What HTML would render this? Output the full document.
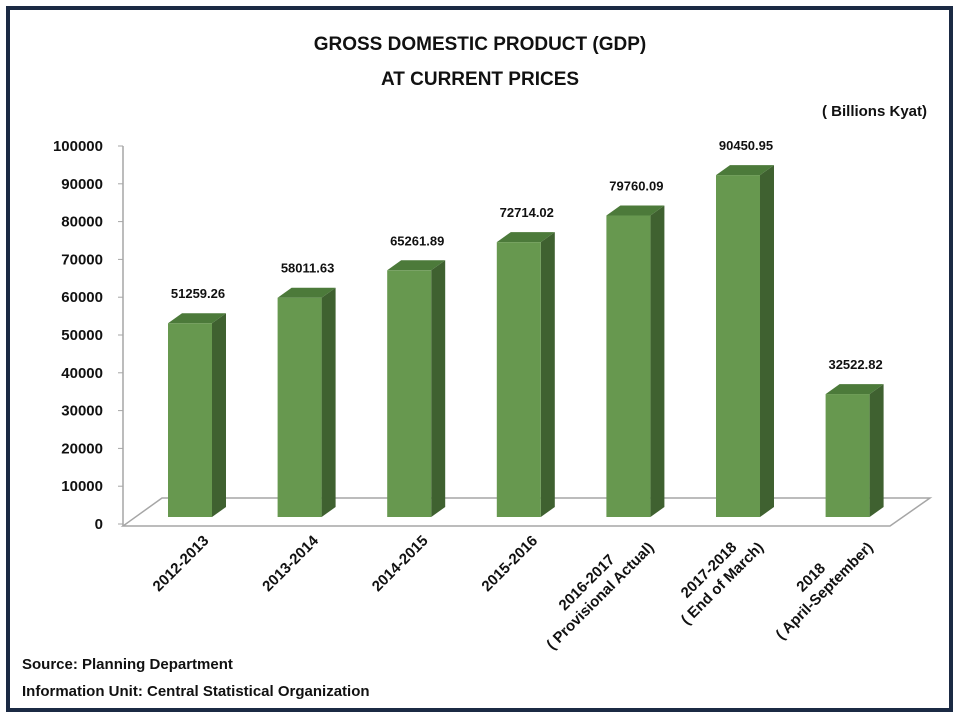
<!DOCTYPE html>
<html><head><meta charset="utf-8"><style>
html,body{margin:0;padding:0;background:#fff}
svg{display:block}
text{font-family:"Liberation Sans",sans-serif}
</style></head><body>
<svg id="c" width="960" height="720" viewBox="0 0 960 720">
<rect x="8" y="8" width="943" height="702" fill="#fff" stroke="#1b2a44" stroke-width="4"/>
<text x="480" y="50" text-anchor="middle" font-size="19" font-weight="bold" fill="#111">GROSS DOMESTIC PRODUCT (GDP)</text>
<text x="480" y="85" text-anchor="middle" font-size="19" font-weight="bold" fill="#111">AT CURRENT PRICES</text>
<text x="927" y="116" text-anchor="end" font-size="15" font-weight="bold" fill="#111">( Billions Kyat)</text>
<g id="axes"></g>
<g id="bars"></g>
<g id="xl"></g>
<text x="22" y="669" font-size="15" font-weight="bold" fill="#111">Source:  Planning Department</text>
<text x="22" y="696" font-size="15" font-weight="bold" fill="#111">Information Unit:  Central Statistical Organization</text>
</svg>
<script>
const categories=[["2012-2013"],["2013-2014"],["2014-2015"],["2015-2016"],["2016-2017","( Provisional Actual)"],["2017-2018","( End of March)"],["2018","( April-September)"]];
const values=[51259.26,58011.63,65261.89,72714.02,79760.09,90450.95,32522.82];
const valueLabels=["51259.26","58011.63","65261.89","72714.02","79760.09","90450.95","32522.82"];
const yTicks=[0,10000,20000,30000,40000,50000,60000,70000,80000,90000,100000];
const NS="http://www.w3.org/2000/svg";
function mk(t,a,p){const e=document.createElementNS(NS,t);for(const k in a)e.setAttribute(k,a[k]);p.appendChild(e);return e;}
const axisTop=146,axisBot=524,barBase=517,x0=168,step=109.6,bw=44,dx=14,dy=10;
const yAxis=v=>axisBot-(v/100000)*(axisBot-axisTop);
const barY=v=>barBase-(v/100000)*(axisBot-axisTop);
const xPos=i=>x0+i*step;
const ax=document.getElementById('axes'),bg=document.getElementById('bars'),xl=document.getElementById('xl');
// floor
let floor=mk('polygon',{points:"123,526 890,526 930,498 162,498",fill:"#fff",stroke:"#a6a6a6","stroke-width":"1.5"},ax);


let yl=mk('line',{x1:123,y1:axisTop,x2:123,y2:526,stroke:"#a6a6a6","stroke-width":"1.5"},ax);


yTicks.forEach(v=>{
  const y=yAxis(v);
  mk('line',{x1:118,y1:y,x2:123,y2:y,stroke:"#a6a6a6","stroke-width":"1"},ax);
  const t=mk('text',{x:103,y:y+5,"text-anchor":"end","font-size":"15","font-weight":"bold",fill:"#111"},ax);
  t.textContent=String(v);
  
  
});
values.forEach((v,i)=>{
  const x=xPos(i),top=barY(v);
  const g=mk('g',{},bg);
  
  
  mk('polygon',{points:`${x+bw},${top} ${x+bw+dx},${top-dy} ${x+bw+dx},${barBase-dy} ${x+bw},${barBase}`,fill:"#3f6130"},g);
  mk('polygon',{points:`${x},${top} ${x+dx},${top-dy} ${x+bw+dx},${top-dy} ${x+bw},${top}`,fill:"#4c7a3a"},g);
  mk('rect',{x:x,y:top,width:bw,height:barBase-top,fill:"#67984f"},g);
  const t=mk('text',{x:x+bw/2+8,y:top-25,"text-anchor":"middle","font-size":"13","font-weight":"bold","font-family":"Liberation Mono, monospace",fill:"#111"},bg);
  t.textContent=valueLabels[i];
  
  
});
categories.forEach((lines,i)=>{
  const tx=xPos(i)+bw/2+16,ty=538;
  const g=mk('g',{},xl);
  
  
  const texts=lines.map(s=>{const t=mk('text',{"text-anchor":"middle","font-size":"15","font-weight":"bold",fill:"#111"},g);t.textContent=s;return t;});
  const W=Math.max(...texts.map(t=>t.getComputedTextLength()));
  const c=0.7071,cx=tx-W/2*c,cy=ty+W/2*c,lh=19,n=lines.length;
  texts.forEach((t,k)=>{
    const off=(k-(n-1)/2)*lh+5;
    const px=cx+off*c,py=cy+off*c;
    t.setAttribute('x',px);t.setAttribute('y',py);
    t.setAttribute('transform',`rotate(-45 ${px} ${py})`);
  });
});
</script>
</body></html>
